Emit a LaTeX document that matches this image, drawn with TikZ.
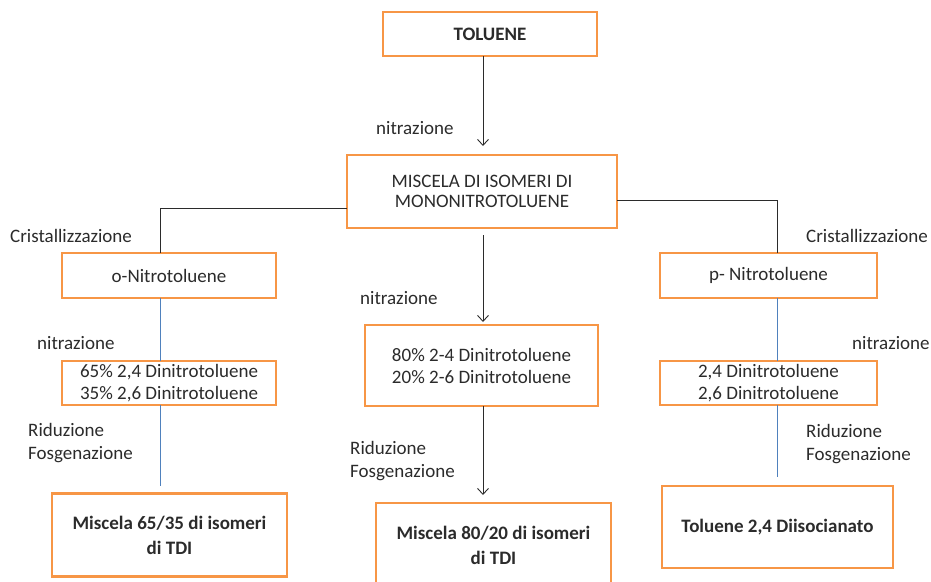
\documentclass[tikz,border=0pt]{standalone}
\usepackage{fontspec}
\setmainfont{Carlito}
\usetikzlibrary{arrows.meta}
\definecolor{orng}{HTML}{F79646}
\definecolor{blu}{HTML}{4F81BD}
\definecolor{txt}{HTML}{2B2B2B}
\begin{document}
\begin{tikzpicture}[x=1pt,y=-1pt,
  box/.style={draw=orng,line width=2.6pt,fill=white,inner sep=0pt,align=center,text=txt,font=\fontsize{19}{22}\selectfont},
  lbl/.style={anchor=west,inner sep=0pt,text=txt,align=left,font=\fontsize{19}{23}\selectfont},
  arr/.style={draw=txt,line width=0.9pt,-{Straight Barb[length=6pt,width=11pt,line width=0.9pt]}},
  ln/.style={draw=txt,line width=0.9pt},
  bl/.style={draw=blu,line width=0.9pt}]
\useasboundingbox (0,0) rectangle (931,581);
\node[box,minimum width=214pt,minimum height=44pt,font=\fontsize{19}{22}\selectfont\bfseries] (tol) at (490,34) {TOLUENE};
\node[box,minimum width=270pt,minimum height=73pt,font=\fontsize{19}{20.5}\selectfont] (mix) at (482,191.5) {MISCELA DI ISOMERI DI\\MONONITROTOLUENE};
\node[box,minimum width=214pt,minimum height=45pt] (on) at (169,275.5) {o-Nitrotoluene};
\node[box,minimum width=214pt,minimum height=44pt] (o65) at (169,383) {65\% 2,4 Dinitrotoluene\\35\% 2,6 Dinitrotoluene};
\node[box,minimum width=233pt,minimum height=81pt] (m80) at (481.5,365.5) {80\% 2-4 Dinitrotoluene\\20\% 2-6 Dinitrotoluene};
\node[box,minimum width=217pt,minimum height=45pt] (pn) at (768.5,275.5) {p- Nitrotoluene};
\node[box,minimum width=217pt,minimum height=44pt] (p24) at (768.5,383) {2,4 Dinitrotoluene\\2,6 Dinitrotoluene};
\node[box,minimum width=235pt,minimum height=83pt,font=\fontsize{19}{25}\selectfont\bfseries] (bl) at (169.5,535) {Miscela 65/35 di isomeri\\di TDI};
\node[box,minimum width=235pt,minimum height=84pt,font=\fontsize{19}{25}\selectfont\bfseries] (bm) at (493.5,545) {Miscela 80/20 di isomeri\\di TDI};
\node[box,minimum width=231pt,minimum height=82pt,font=\fontsize{19}{22}\selectfont\bfseries] (br) at (777.5,527) {Toluene 2,4 Diisocianato};
% connectors
\coordinate (a1) at (483,56);
\coordinate (a2) at (483,146);
\draw[arr] (a1) -- (a2);
\coordinate (b1) at (483,235);
\coordinate (b2) at (483,322);
\draw[arr] (b1) -- (b2);
\coordinate (c1) at (483,406);
\coordinate (c2) at (483,495);
\draw[arr] (c1) -- (c2);
\coordinate (l1) at (347,208);
\coordinate (l2) at (160,253);
\draw[ln] (l1) -| (l2);
\coordinate (r1) at (617,200);
\coordinate (r2) at (777,253);
\draw[ln] (r1) -| (r2);
\coordinate (lb1) at (160,298);
\coordinate (lb2) at (160,361);
\coordinate (lb3) at (160,405);
\coordinate (lb4) at (160,486);
\draw[bl] (lb1) -- (lb2);
\draw[bl] (lb3) -- (lb4);
\coordinate (rb1) at (777,298);
\coordinate (rb2) at (777,361);
\coordinate (rb3) at (777,405);
\coordinate (rb4) at (777,477);
\draw[bl] (rb1) -- (rb2);
\draw[bl] (rb3) -- (rb4);
% labels
\node[lbl] (t1) at (376,128) {nitrazione};
\node[lbl] (t2) at (10,236) {Cristallizzazione};
\node[lbl] (t3) at (806,236) {Cristallizzazione};
\node[lbl] (t4) at (37,343) {nitrazione};
\node[lbl] (t5) at (360,298) {nitrazione};
\node[lbl] (t6) at (852,343) {nitrazione};
\node[lbl] (t7) at (28,443.5) {Riduzione\\Fosgenazione};
\node[lbl] (t8) at (350,461.5) {Riduzione\\Fosgenazione};
\node[lbl] (t9) at (806,444) {Riduzione\\Fosgenazione};
\end{tikzpicture}
\end{document}
